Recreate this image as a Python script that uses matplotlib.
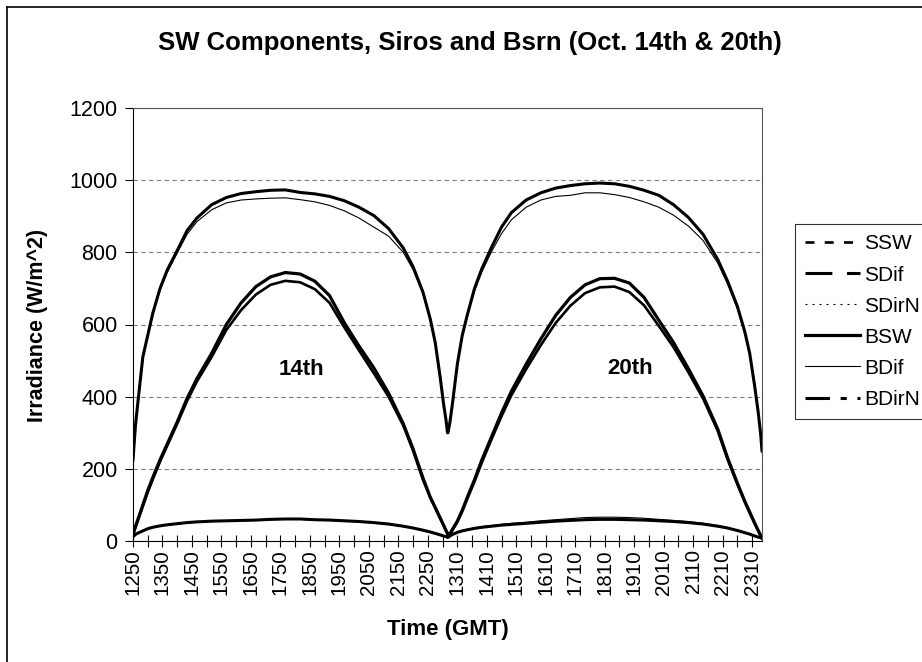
import matplotlib
matplotlib.use("Agg")
import matplotlib.pyplot as plt
from matplotlib.lines import Line2D
import numpy as np

plt.rcParams['font.family'] = ['Liberation Sans', 'DejaVu Sans']

# sample times (HHMM) for each day
times_14 = [1250, 1255, 1300, 1310, 1320, 1330, 1345, 1400, 1420, 1440, 1500, 1530,
            1600, 1630, 1700, 1730, 1800, 1830, 1900, 1930, 2000, 2030, 2100, 2130,
            2200, 2220, 2240, 2255, 2305, 2315, 2322, 2327, 2330]
times_20 = [1251] + times_14[1:]

# Oct 14th
ssw_14 = [16, 38, 57, 96, 135, 170, 220, 265, 325, 388, 442, 510, 585, 640, 683, 710,
          721, 717, 698, 660, 592, 528, 465, 400, 320, 250, 170, 120, 92, 63, 43, 29, 20]
sdif_14 = [12, 18, 22, 28, 34, 38, 42, 45, 48, 51, 53, 55, 56, 57, 58, 60,
           61, 61, 59, 58, 56, 54, 51, 47, 41, 36, 30, 25, 21, 17, 14, 12, 10]
sdirn_14 = [220, 315, 380, 505, 565, 625, 695, 745, 798, 850, 885, 918, 937, 945, 948, 950,
            951, 946, 940, 930, 915, 895, 870, 845, 800, 752, 685, 612, 548, 452, 378, 333, 298]
bsw_14 = [18, 40, 60, 100, 140, 175, 225, 270, 330, 395, 450, 520, 600, 660, 705, 732,
          744, 740, 720, 680, 605, 540, 480, 410, 325, 255, 175, 121, 93, 64, 44, 29, 21]
bdif_14 = [12, 18, 22, 28, 33, 37, 41, 44, 47, 50, 52, 54, 55, 56, 57, 59,
           60, 60, 58, 57, 55, 53, 50, 46, 40, 35, 29, 24, 20, 16, 13, 11, 10]
bdirn_14 = [225, 320, 385, 510, 570, 630, 700, 752, 805, 860, 895, 932, 952, 963, 968, 972,
            973, 966, 962, 955, 943, 925, 902, 866, 812, 760, 690, 615, 550, 455, 380, 335, 300]

# Oct 20th
ssw_20 = [11, 19, 30, 53, 82, 116, 165, 218, 283, 346, 404, 476, 543, 604, 652, 687,
          703, 705, 690, 653, 596, 537, 468, 395, 305, 226, 157, 108, 78, 49, 29, 16, 8]
sdif_20 = [10, 14, 18, 24, 28, 31, 35, 38, 41, 44, 46, 49, 52, 55, 57, 59,
           60, 60, 59, 58, 56, 54, 51, 47, 41, 36, 29, 23, 19, 14, 11, 9, 8]
sdirn_20 = [298, 326, 376, 485, 565, 620, 693, 746, 803, 852, 890, 925, 945, 955, 958, 965,
            965, 960, 952, 940, 925, 903, 873, 833, 770, 712, 643, 575, 515, 425, 355, 296, 246]
bsw_20 = [12, 20, 32, 55, 85, 120, 170, 225, 290, 355, 415, 490, 560, 625, 675, 710,
          727, 728, 715, 675, 612, 550, 478, 402, 310, 230, 160, 110, 80, 50, 30, 16, 8]
bdif_20 = [10, 14, 18, 24, 28, 32, 36, 40, 43, 46, 49, 52, 56, 59, 62, 65,
           66, 66, 65, 63, 60, 57, 54, 49, 43, 37, 30, 24, 19, 14, 11, 9, 8]
bdirn_20 = [300, 330, 380, 490, 570, 625, 700, 755, 815, 870, 910, 945, 965, 978, 985, 990,
            992, 990, 983, 972, 958, 932, 897, 850, 780, 720, 650, 580, 520, 430, 360, 300, 250]

tick_labels_14 = ['1250', '1350', '1450', '1550', '1650', '1750', '1850', '1950', '2050', '2150', '2250']
tick_labels_20 = ['1310', '1410', '1510', '1610', '1710', '1810', '1910', '2010', '2110', '2210', '2310']

series = ['SSW', 'SDif', 'SDirN', 'BSW', 'BDif', 'BDirN']
day14 = [ssw_14, sdif_14, sdirn_14, bsw_14, bdif_14, bdirn_14]
day20 = [ssw_20, sdif_20, sdirn_20, bsw_20, bdif_20, bdirn_20]

# Excel category axis: one row per minute, day 20 rows follow day 14 rows
ROWS_14 = 640


def minutes(t):
    return (t // 100) * 60 + t % 100


def row(t, offset):
    return minutes(t) - minutes(1250) + offset


x14 = [row(t, 0) for t in times_14]
x20 = [row(t, ROWS_14) for t in times_20]
xs = np.array(x14 + x20)
last_row = xs[-1]

widths = [1.9, 2.2, 0.8, 2.3, 0.8, 2.2]
legend_dash = [(0, (3.4, 3.9)), (0, (8.8, 4.8)), (0, (1.8, 4.5)), '-', '-', (0, (8, 3.5, 2, 3.5))]

fig = plt.figure(figsize=(9.22, 6.62), dpi=100)
ax = fig.add_axes([133 / 922, 1 - 541 / 662, 629 / 922, (541 - 108) / 662])

for name, a, b, lw in zip(series, day14, day20, widths):
    ax.plot(xs, a + b, color='black', lw=lw, solid_joinstyle='round')

ax.set_xlim(0, last_row)
ax.set_ylim(0, 1200)
ax.set_yticks(range(0, 1201, 200))
ax.yaxis.grid(True, color='#7f7f7f', linestyle=(0, (4, 3)), lw=0.8)
ax.set_axisbelow(True)

label_pos = [row(int(s), 0) for s in tick_labels_14] + [row(int(s), ROWS_14) for s in tick_labels_20]
ticks = np.arange(0, last_row, 30)
ax.set_xticks(ticks)
lab_map = dict(zip(label_pos, tick_labels_14 + tick_labels_20))
ax.set_xticklabels([lab_map.get(int(t), '') for t in ticks], rotation=90)

ax.tick_params(axis='x', direction='inout', length=8, width=0.8, labelsize=14.8, pad=2)
ax.tick_params(axis='y', direction='out', length=6, width=0.8, labelsize=15.5, pad=5)
for s in ax.spines.values():
    s.set_linewidth(0.8)
ax.spines['top'].set_color('#555555')
ax.spines['right'].set_color('#555555')

ax.text(343, 474, '14th', fontsize=16, fontweight='bold', ha='center', va='center')
ax.text(1011, 479, '20th', fontsize=16, fontweight='bold', ha='center', va='center')

fig.text(470 / 922, 1 - 43 / 662, 'SW Components, Siros and Bsrn (Oct. 14th & 20th)',
         fontsize=18.5, fontweight='bold', ha='center', va='center')
fig.text(448 / 922, 1 - 630 / 662, 'Time (GMT)', fontsize=16, fontweight='bold', ha='center', va='center')
fig.text(37 / 922, 1 - 325 / 662, 'Irradiance (W/m^2)', fontsize=15.5, fontweight='bold',
         rotation=90, ha='center', va='center')

handles = [Line2D([], [], color='black', lw=w, linestyle=d) for w, d in zip(widths, legend_dash)]
leg = fig.legend(handles, series, loc='upper left', bbox_to_anchor=(795 / 922, 1 - 224 / 662),
                 fontsize=15, frameon=True, fancybox=False, handlelength=2.6, handletextpad=0.2,
                 labelspacing=0.58, borderpad=0.5, borderaxespad=0)
leg.get_frame().set_edgecolor('black')
leg.get_frame().set_linewidth(0.8)

# outer chart border (only top and left edges are inside the picture)
fig.add_artist(Line2D([7 / 922, 7 / 922], [0, 1 - 7 / 662], color='black', lw=1.2))
fig.add_artist(Line2D([7 / 922, 1], [1 - 7 / 662, 1 - 7 / 662], color='black', lw=1.2))

fig.savefig('out.png', dpi=100)
